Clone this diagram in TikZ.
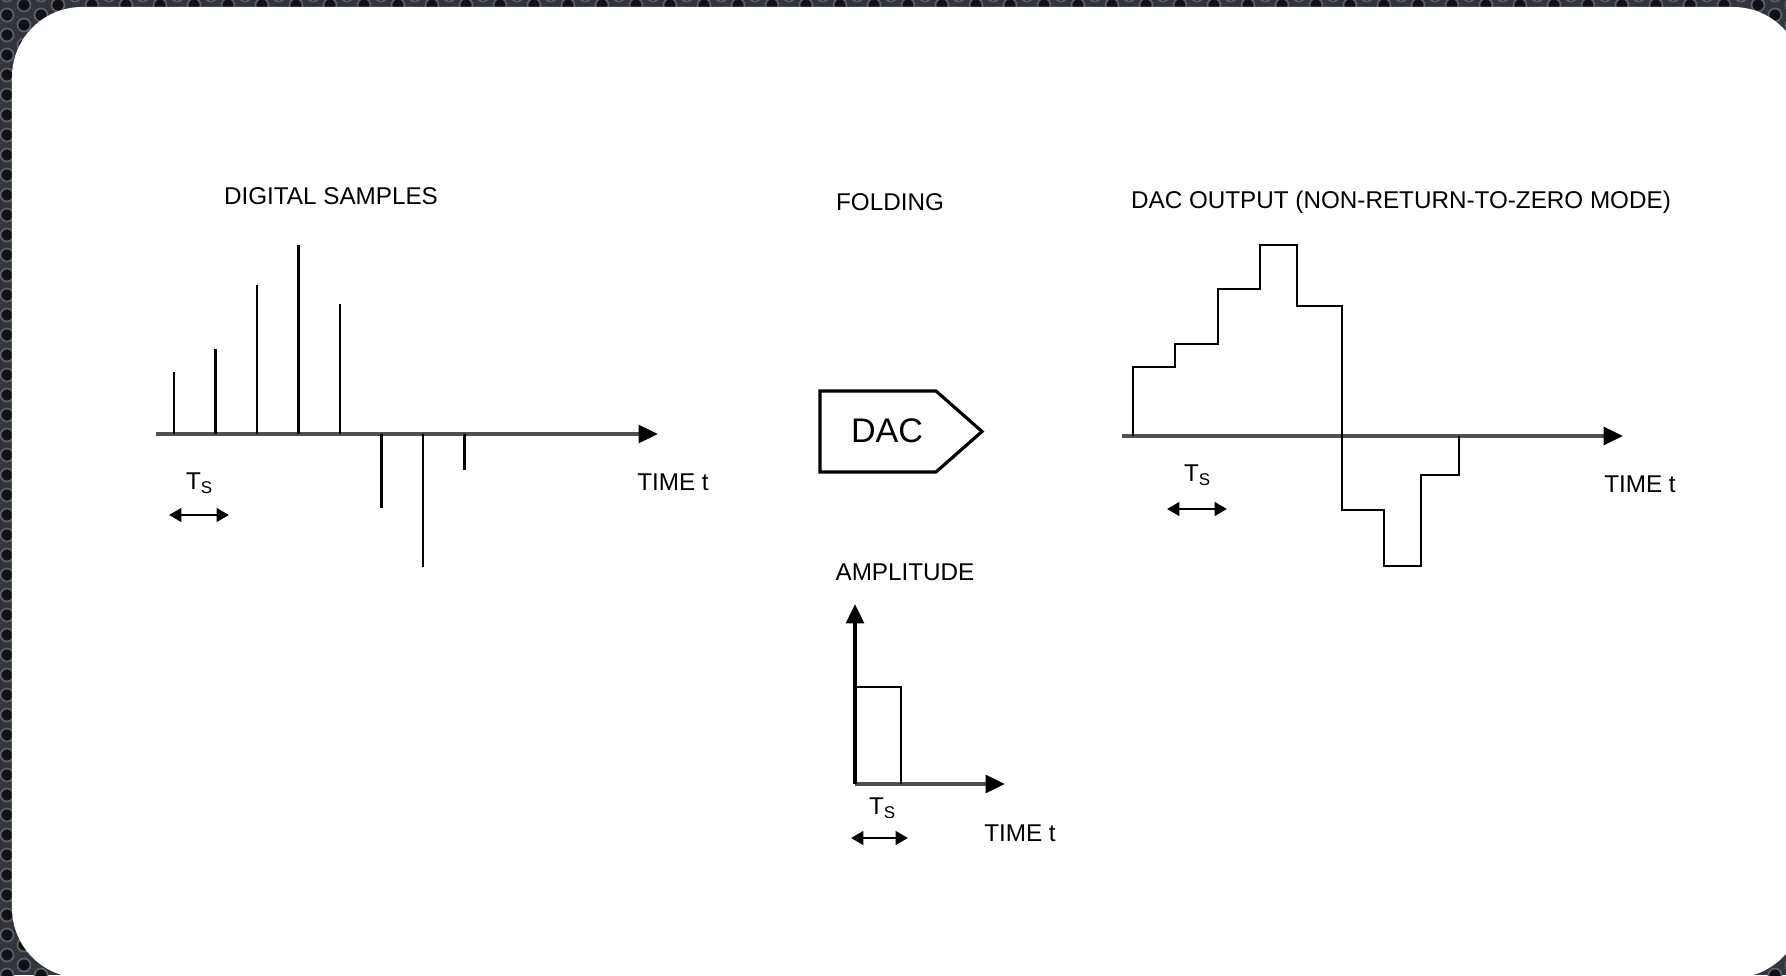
\documentclass[tikz,border=0pt]{standalone}
\usepackage{fontspec}
\setmainfont{Liberation Sans}
\usepackage{tikz}
\usetikzlibrary{arrows.meta, positioning}
\definecolor{mesh}{RGB}{50,53,59}
\definecolor{hole}{RGB}{18,16,20}
\definecolor{rim}{RGB}{92,96,104}
\definecolor{axisgray}{RGB}{80,80,80}

% perforated backdrop, hex grid of holes
\newcommand{\meshholes}[4]{%
  \foreach \i in {#1,...,#2}
    \foreach \j in {#3,...,#4}
      \fill[hole, draw=rim, line width=0.5pt] ({0.17*\i+0.07}, {0.2*\j+0.1*mod(\i,2)}) circle (0.065);}

\tikzset{
  lbl/.style={font=\fontsize{6.9}{8}\selectfont, inner sep=1pt},
  axis/.style={axisgray, line width=1.1pt, -{Triangle[length=5.5pt, width=5pt, color=black]}},
  stem/.style={black, line width=0.8pt},
  period/.style={black, line width=0.8pt, {Triangle[length=3.5pt, width=3.8pt]}-{Triangle[length=3.5pt, width=3.8pt]}},
}

\begin{document}
\begin{tikzpicture}
  \useasboundingbox (0,0) rectangle (17.86,9.75);
  \clip (0,0) rectangle (17.86,9.75);

  % backdrop and card
  \fill[mesh] (0,0) rectangle (17.86,9.75);
  \meshholes{0}{5}{0}{49}
  \meshholes{100}{105}{0}{49}
  \meshholes{6}{99}{45}{49}
  \meshholes{6}{99}{0}{3}
  \fill[white, rounded corners=0.7cm] (0.12,-0.03) rectangle (18.03,9.68);

  % digital samples
  \node[lbl] (ttlA) at (3.31,7.79) {DIGITAL SAMPLES};
  \coordinate (oA) at (1.56,5.41);
  \coordinate (eA) at (6.58,5.41);
  \draw[axis] (oA) -- (eA);
  \foreach \x/\h in {1.74/0.62, 2.155/0.85, 2.57/1.49, 2.985/1.89, 3.40/1.30, 3.815/-0.74, 4.23/-1.33, 4.645/-0.36}
    \draw[stem] (\x,5.41) -- ++(0,\h);
  \node[lbl] (tsA) at (2.00,4.92) {T\textsubscript{S}};
  \coordinate (pA1) at (1.69,4.60);
  \coordinate (pA2) at (2.29,4.60);
  \draw[period] (pA1) -- (pA2);
  \node[lbl] (timeA) at (6.73,4.93) {TIME t};

  % converter
  \node[lbl] (fold) at (8.90,7.73) {FOLDING};
  \draw[line width=0.9pt] (8.20,5.03) -- (9.36,5.03) -- (9.82,5.435) -- (9.36,5.84) -- (8.20,5.84) -- cycle;
  \node[font=\fontsize{9.7}{11}\selectfont] (dac) at (8.87,5.44) {DAC};

  % impulse response
  \node[lbl] (amp) at (9.05,4.03) {AMPLITUDE};
  \coordinate (oC) at (8.55,1.91);
  \coordinate (uC) at (8.55,3.71);
  \coordinate (eC) at (10.05,1.91);
  \draw[axis] (oC) -- (eC);
  \draw[axis, black] (oC) -- (uC);
  \draw[stem] (8.55,2.88) -| (9.01,1.91);
  \node[lbl] (tsC) at (8.83,1.67) {T\textsubscript{S}};
  \coordinate (pC1) at (8.51,1.37);
  \coordinate (pC2) at (9.08,1.37);
  \draw[period] (pC1) -- (pC2);
  \node[lbl] (timeC) at (10.20,1.42) {TIME t};

  % held output
  \node[lbl] (ttlB) at (14.01,7.73) {DAC OUTPUT (NON-RETURN-TO-ZERO MODE)};
  \coordinate (oB) at (11.22,5.39);
  \coordinate (eB) at (16.23,5.39);
  \draw[axis] (oB) -- (eB);
  \draw[stem] (11.33,5.39) |- (11.75,6.08) |- (12.18,6.31) |- (12.60,6.86) |- (12.97,7.30)
    |- (13.42,6.69) |- (13.84,4.65) |- (14.21,4.09) |- (14.59,5.00) -- (14.59,5.39);
  \node[lbl] (tsB) at (11.98,5.00) {T\textsubscript{S}};
  \coordinate (pB1) at (11.67,4.66);
  \coordinate (pB2) at (12.27,4.66);
  \draw[period] (pB1) -- (pB2);
  \node[lbl] (timeB) at (16.40,4.91) {TIME t};
\end{tikzpicture}
\end{document}
